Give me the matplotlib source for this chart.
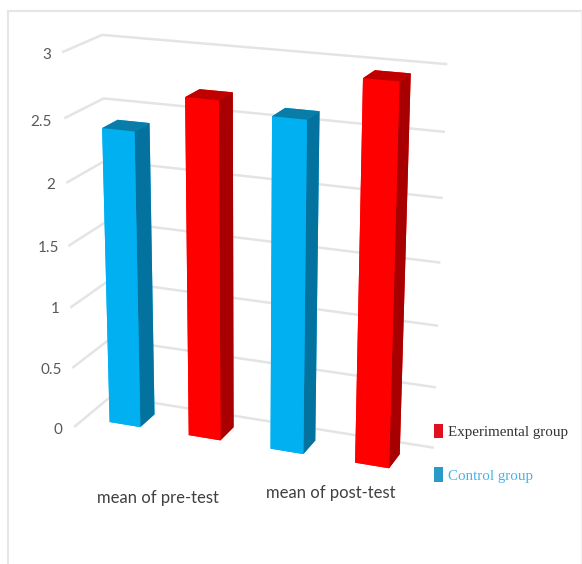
import matplotlib
matplotlib.use('Agg')
import matplotlib.pyplot as plt
from matplotlib.lines import Line2D
from matplotlib.patches import Patch
import numpy as np

# Chart data
categories = ['mean of pre-test', 'mean of post-test']
series_names = ['Experimental group', 'Control group']
control_group = [2.40, 2.62]
experimental_group = [2.70, 2.96]
y_ticks = [0, 0.5, 1, 1.5, 2, 2.5, 3]
y_tick_labels = ['0', '0.5', '1', '1.5', '2', '2.5', '3']

W, H = 582, 564
fig = plt.figure(figsize=(W/100, H/100), dpi=100)
fig.patch.set_facecolor('white')

# Thin frame around the chart area
frame = '#e6e6e6'
fig.add_artist(Line2D([8/W, 8/W], [0, 1-11/H], color=frame, lw=1.5))
fig.add_artist(Line2D([8/W, 1], [1-11/H, 1-11/H], color=frame, lw=1.5))
fig.add_artist(Line2D([581/W, 581/W], [0, 1-11/H], color='#f2f2f2', lw=1))

# 3D axes, camera set up so the right side of the floor comes forward
ax = fig.add_axes([-37.87/W, 20.63/H, 564/W, 564/H], projection='3d')
ax.set_proj_type('persp', focal_length=0.6066)
ax.view_init(elev=18.505, azim=-68.416, roll=-0.06)
ax.set_box_aspect((1.1913, 0.2848, 1.3090), zoom=0.9407)
ax.set_xlim(0, 4, view_margin=0)
ax.set_ylim(0, 1, view_margin=0)
ax.set_zlim(0, 3, view_margin=0)
ax.set_axis_off()
ax.computed_zorder = False

# Gridlines on the side wall and back wall
for tick in y_ticks:
    ax.plot([0, 0, 4], [0, 1, 1], [tick, tick, tick], color='#e4e4e4', lw=1.8, zorder=1)

# Value labels follow the slanted front edge of the side wall
label_x = [58, 51, 55, 48, 51, 41, 47]
label_y = [430, 370, 309, 248, 185, 122, 55]
for label, px, py in zip(y_tick_labels, label_x, label_y):
    fig.text(px/W, 1-py/H, label, ha='center', va='center', color='#595959',
             fontsize=11, family='Lato')

# One bar per group in each category, spaced evenly along the floor
heights = [control_group[0], experimental_group[0], control_group[1], experimental_group[1]]
x_pos = 0.318 + np.arange(len(heights))
bar_width = 0.392
y_front, y_back = 0.265, 0.677

blue = ('#00B0F0', '#0A7CA8', '#04729F')
red = ('#FF0000', '#C00000', '#A80000')
face_colors = []
for i in range(len(heights)):
    front, top, side = blue if i % 2 == 0 else red
    # bar3d face order: bottom, top, front, back, left, right
    face_colors += [front, top, front, front, front, side]

ax.bar3d(x_pos, [y_front]*4, [0]*4, [bar_width]*4, [y_back - y_front]*4, heights,
         color=face_colors, shade=False, zorder=2)

# Category labels under the bars
fig.text(158/W, 1-498/H, categories[0], ha='center', va='center',
         fontsize=12, family='Lato', color='#404040')
fig.text(331/W, 1-493/H, categories[1], ha='center', va='center',
         fontsize=12, family='Lato', color='#404040')

# Legend at the lower right, each label in its own colour
handles = [Patch(facecolor='#E0101E', edgecolor='none'), Patch(facecolor='#2A9BC8', edgecolor='none')]
fig.legend(handles, series_names, loc='upper left', bbox_to_anchor=(429/W, 1-419/H),
           frameon=False, prop={'family': 'Liberation Serif', 'size': 10.8},
           labelcolor=['#333333', '#45B4E8'], handlelength=0.65, handleheight=1.1,
           handletextpad=0.3, labelspacing=1.9, borderpad=0.3, borderaxespad=0)

fig.savefig('out.png', dpi=100)
